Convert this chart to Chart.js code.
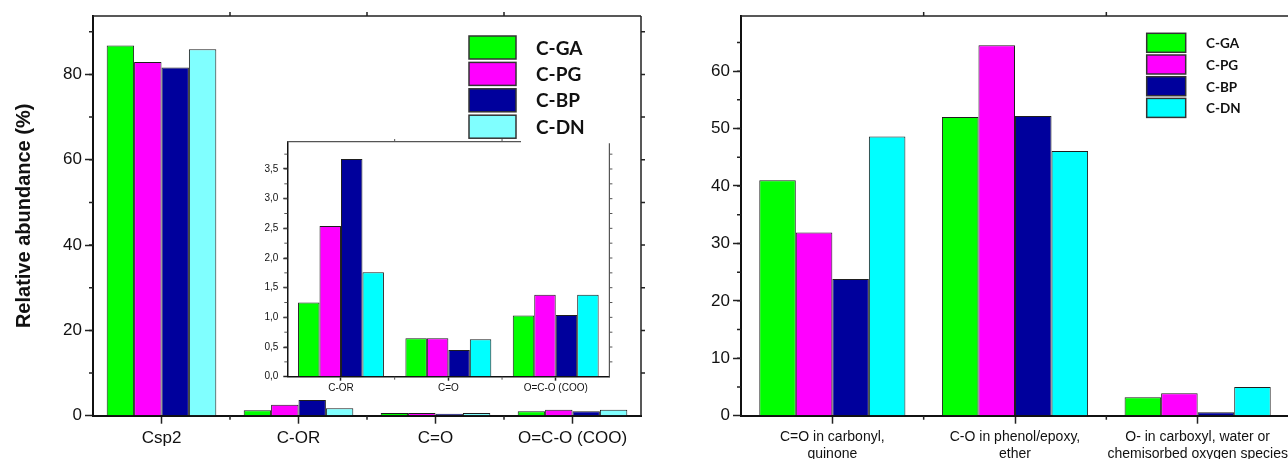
<!DOCTYPE html>
<html>
<head>
<meta charset="utf-8">
<script src="https://cdn.jsdelivr.net/npm/chart.js@4.4.1/dist/chart.umd.min.js"></script>
<style>
  html, body { margin: 0; padding: 0; background: #fff; width: 1288px; height: 459px; overflow: hidden; }
  #wrap { position: relative; width: 1288px; height: 459px; overflow: hidden; }
  canvas { position: absolute; }
  #leftChart { left: 0; top: 0; }
  #insetChart { left: 240px; top: 139px; }
  #rightChart { left: 660px; top: 0; }
</style>
</head>
<body>
<div id="wrap">
  <canvas id="leftChart" width="660" height="459"></canvas>
  <canvas id="insetChart" width="375" height="262"></canvas>
  <canvas id="rightChart" width="640" height="459"></canvas>
</div>
<script>
// series names (legend)
const seriesNames = ['C-GA', 'C-PG', 'C-BP', 'C-DN'];

// left panel: carbon species
const leftCategories = ['Csp2', 'C-OR', 'C=O', 'O=C-O (COO)'];
const leftGA = [86.8, 1.25, 0.65, 1.03];
const leftPG = [82.9, 2.54, 0.65, 1.38];
const leftBP = [81.6, 3.67, 0.45, 1.04];
const leftDN = [85.9, 1.76, 0.63, 1.38];

// inset: everything except Csp2
const insetCategories = leftCategories.slice(1);

// right panel: oxygen species
const rightCategories = [
    ['C=O in carbonyl,', 'quinone'],
    ['C-O in phenol/epoxy,', 'ether'],
    ['O- in carboxyl, water or', 'chemisorbed oxygen species']
];
const rightGA = [41.0, 52.0, 3.2];
const rightPG = [31.9, 64.5, 3.9];
const rightBP = [23.8, 52.2, 0.6];
const rightDN = [48.6, 46.1, 5.0];

const mainColors = ['#00ff00', '#ff00ff', '#00009c', '#80ffff'];
const brightColors = ['#00ff00', '#ff00ff', '#00009c', '#00ffff'];

const AX = "'Liberation Sans', Arial, sans-serif";

function makeDatasets(series, colors) {
    return series.map((data, i) => ({
        label: seriesNames[i],
        data: data,
        backgroundColor: colors[i],
        borderColor: '#1e1e1e',
        borderWidth: 1,
        categoryPercentage: 0.8,
        barPercentage: 1
    }));
}

// frame on top/right + minor ticks, drawn from the scales
const framePlugin = {
    id: 'frame',
    afterDraw(chart, args, opts) {
        const { ctx, chartArea: a, scales: { x, y } } = chart;
        ctx.save();
        ctx.strokeStyle = opts.color || '#222';
        ctx.lineWidth = opts.lineWidth || 1.5;
        ctx.beginPath();
        ctx.moveTo(a.left, a.top);
        ctx.lineTo(opts.topEnd != null ? opts.topEnd : a.right, a.top);
        ctx.moveTo(a.right, opts.rightStart != null ? opts.rightStart : a.top);
        ctx.lineTo(a.right, a.bottom);
        ctx.stroke();

        ctx.lineWidth = opts.tickWidth || 1.5;
        ctx.beginPath();
        // minor y ticks on left, mirrored on right
        for (let v = opts.minorStep; v < y.max; v += opts.minorStep) {
            const py = y.getPixelForValue(v);
            ctx.moveTo(a.left, py); ctx.lineTo(a.left - opts.minorLen, py);
            if (opts.rightTicks) { ctx.moveTo(a.right, py); ctx.lineTo(a.right + opts.minorLen, py); }
        }
        // x boundary ticks
        const n = x.ticks.length;
        for (let i = 0; i < n - 1; i++) {
            const px = (x.getPixelForValue(i) + x.getPixelForValue(i + 1)) / 2;
            ctx.moveTo(px, a.bottom); ctx.lineTo(px, a.bottom + opts.minorLen);
            if (opts.topTicks && (opts.topEnd == null || px < opts.topEnd)) {
                ctx.moveTo(px, a.top); ctx.lineTo(px, a.top - opts.minorLen);
            }
        }
        ctx.stroke();
        ctx.restore();
    }
};

// legend with boxes at a fixed spot
const boxLegendPlugin = {
    id: 'boxLegend',
    afterDraw(chart, args, o) {
        if (!o || !o.display) return;
        const ctx = chart.ctx;
        ctx.save();
        chart.data.datasets.forEach((ds, i) => {
            const y0 = o.y + i * o.step;
            ctx.fillStyle = ds.backgroundColor;
            ctx.fillRect(o.x, y0, o.w, o.h);
            ctx.strokeStyle = '#333';
            ctx.lineWidth = 1.5;
            ctx.strokeRect(o.x, y0, o.w, o.h);
            ctx.fillStyle = '#111';
            ctx.font = o.font;
            ctx.textBaseline = 'middle';
            ctx.fillText(ds.label, o.textX, y0 + o.h / 2 + 1);
        });
        ctx.restore();
    }
};

function yAxis(max, step, fontSize, tickLen, pad, width, extra, noTopPad) {
    return Object.assign({
        min: 0,
        max: max,
        ticks: {
            stepSize: step,
            includeBounds: false,
            color: '#111',
            padding: pad,
            font: { family: AX, size: fontSize }
        },
        grid: { display: true, drawOnChartArea: false, drawTicks: true, tickLength: tickLen, tickColor: '#222', tickWidth: 1.5 },
        border: { display: true, color: '#111', width: 2 },
        afterFit(s) {
            s.width = width;
            if (noTopPad) s.paddingTop = 0;
        }
    }, extra || {});
}

function xAxis(fontSize, tickLen, pad, height) {
    return {
        offset: true,
        ticks: {
            color: '#111',
            padding: pad,
            maxRotation: 0,
            autoSkip: false,
            font: { family: AX, size: fontSize, lineHeight: 1.2 }
        },
        grid: { display: true, offset: false, drawOnChartArea: false, drawTicks: true, tickLength: tickLen, tickColor: '#222', tickWidth: 1.5 },
        border: { display: true, color: '#111', width: 2 },
        afterFit(s) { s.height = height; }
    };
}

const common = {
    responsive: false,
    animation: false,
    devicePixelRatio: 1,
    events: []
};

// left main chart
new Chart(document.getElementById('leftChart'), {
    type: 'bar',
    data: {
        labels: leftCategories,
        datasets: makeDatasets([leftGA, leftPG, leftBP, leftDN], mainColors)
    },
    options: Object.assign({}, common, {
        layout: { padding: { top: 16, right: 19, left: 0, bottom: 0 } },
        plugins: {
            legend: { display: false },
            tooltip: { enabled: false },
            frame: { minorStep: 10, minorLen: 4, rightTicks: true, topTicks: true },
            boxLegend: {
                display: true, x: 469, y: 36, w: 47, h: 23, step: 26.4, textX: 536,
                font: "bold 19px Lato, 'Open Sans', sans-serif"
            }
        },
        scales: {
            x: xAxis(17, 8, 4, 43.3),
            y: yAxis(93.7, 20, 17, 8, 3, 93, {
                title: {
                    display: true,
                    text: 'Relative abundance (%)',
                    color: '#111',
                    font: { family: AX, size: 20, weight: 'bold' },
                    padding: { top: 12, bottom: 0 }
                }
            })
        }
    }),
    plugins: [framePlugin, boxLegendPlugin]
});

// inset chart
const insetY = yAxis(3.96, 0.5, 10, 4, 5, 47.3, {}, true);
insetY.ticks.callback = v => v.toFixed(1).replace('.', ','); // comma decimals
insetY.border.width = 1.5;
const insetX = xAxis(10, 4, 2, 24.3);
insetX.border.width = 1.5;

new Chart(document.getElementById('insetChart'), {
    type: 'bar',
    data: {
        labels: insetCategories,
        datasets: makeDatasets([leftGA, leftPG, leftBP, leftDN].map(s => s.slice(1)), brightColors)
    },
    options: Object.assign({}, common, {
        layout: { padding: { top: 2.7, right: 5.6, left: 0, bottom: 0 } },
        plugins: {
            legend: { display: false },
            tooltip: { enabled: false },
            frame: { minorStep: 0.25, minorLen: 3, rightTicks: true, topTicks: true, topEnd: 281, rightStart: 4.3, color: '#555', lineWidth: 1.2, tickWidth: 1 }
        },
        scales: { x: insetX, y: insetY }
    }),
    plugins: [framePlugin]
});

// right chart
new Chart(document.getElementById('rightChart'), {
    type: 'bar',
    data: {
        labels: rightCategories,
        datasets: makeDatasets([rightGA, rightPG, rightBP, rightDN], brightColors)
    },
    options: Object.assign({}, common, {
        layout: { padding: { top: 16, right: 11, left: 0, bottom: 0 } },
        plugins: {
            legend: { display: false },
            tooltip: { enabled: false },
            frame: { minorStep: 5, minorLen: 4, rightTicks: false, topTicks: true },
            boxLegend: {
                display: true, x: 486.7, y: 33.3, w: 39, h: 19, step: 21.7, textX: 546,
                font: "bold 13.5px Lato, 'Open Sans', sans-serif"
            }
        },
        scales: {
            x: xAxis(14, 8, 5, 43.3),
            y: yAxis(69.6, 10, 17, 8, 3, 81, {})
        }
    }),
    plugins: [framePlugin, boxLegendPlugin]
});
</script>
</body>
</html>
